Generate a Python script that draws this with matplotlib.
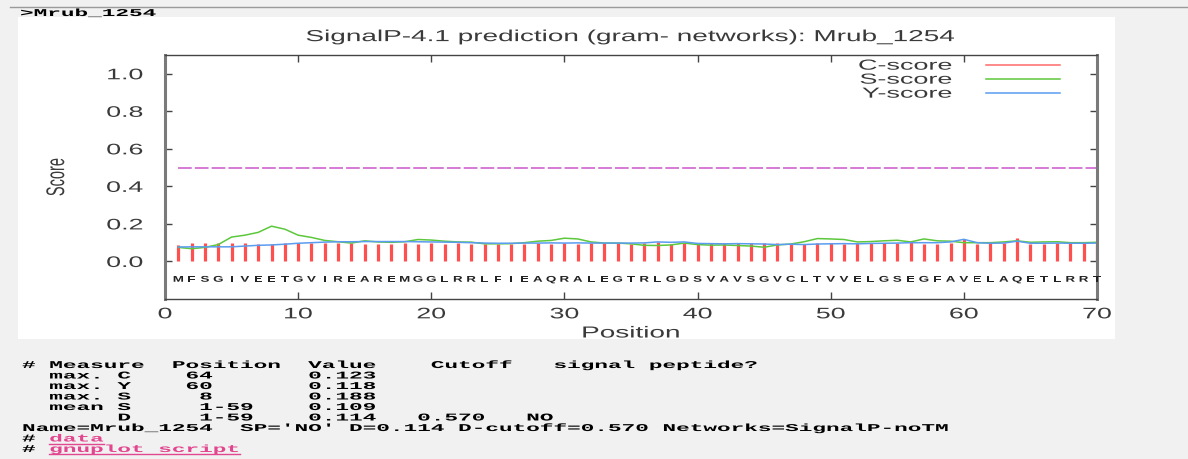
import numpy as np
import matplotlib
matplotlib.use("Agg")
import matplotlib.pyplot as plt
from matplotlib.lines import Line2D
from matplotlib.patches import Rectangle
from matplotlib.patheffects import AbstractPathEffect
from matplotlib.transforms import Affine2D

# SignalP-4.1 scores per residue for Mrub_1254
sequence = "MFSGIVEETGVIREAREMGGLRRLFIEAQRALEGTRLGDSVAVSGVCLTVVELGSEGFAVELAQETLRRT"
positions = np.arange(1, len(sequence) + 1)

c_score = [0.090, 0.097, 0.097, 0.096, 0.096, 0.096, 0.092, 0.092, 0.099, 0.096,
           0.096, 0.097, 0.096, 0.096, 0.094, 0.093, 0.094, 0.096, 0.094, 0.096,
           0.095, 0.100, 0.095, 0.094, 0.095, 0.094, 0.094, 0.100, 0.094, 0.097,
           0.095, 0.096, 0.096, 0.096, 0.095, 0.096, 0.103, 0.095, 0.096, 0.094,
           0.096, 0.097, 0.096, 0.101, 0.096, 0.096, 0.092, 0.094, 0.096, 0.096,
           0.092, 0.096, 0.100, 0.096, 0.100, 0.104, 0.093, 0.094, 0.097, 0.118,
           0.094, 0.096, 0.097, 0.123, 0.094, 0.095, 0.096, 0.097, 0.096, 0.094]

s_score = [0.075, 0.068, 0.075, 0.090, 0.130, 0.140, 0.155, 0.188, 0.172, 0.140,
           0.128, 0.112, 0.105, 0.098, 0.110, 0.104, 0.102, 0.105, 0.117, 0.114,
           0.108, 0.104, 0.103, 0.094, 0.094, 0.095, 0.100, 0.108, 0.112, 0.124,
           0.120, 0.104, 0.098, 0.098, 0.094, 0.086, 0.085, 0.088, 0.098, 0.090,
           0.087, 0.088, 0.085, 0.082, 0.076, 0.088, 0.093, 0.105, 0.122, 0.120,
           0.117, 0.104, 0.106, 0.110, 0.113, 0.104, 0.120, 0.110, 0.108, 0.100,
           0.100, 0.100, 0.104, 0.110, 0.102, 0.104, 0.105, 0.100, 0.100, 0.102]

y_score = [0.077, 0.078, 0.078, 0.078, 0.078, 0.082, 0.086, 0.088, 0.092, 0.097,
           0.100, 0.103, 0.105, 0.105, 0.106, 0.106, 0.106, 0.106, 0.105, 0.104,
           0.103, 0.102, 0.100, 0.098, 0.097, 0.097, 0.098, 0.098, 0.099, 0.098,
           0.099, 0.098, 0.098, 0.098, 0.098, 0.099, 0.104, 0.102, 0.104, 0.096,
           0.095, 0.094, 0.095, 0.094, 0.093, 0.090, 0.092, 0.090, 0.093, 0.094,
           0.095, 0.094, 0.096, 0.097, 0.098, 0.100, 0.100, 0.100, 0.104, 0.118,
           0.100, 0.097, 0.098, 0.108, 0.097, 0.097, 0.098, 0.097, 0.097, 0.098]

cutoff = 0.5
x_ticks = [0, 10, 20, 30, 40, 50, 60, 70]
y_ticks = [0.0, 0.2, 0.4, 0.6, 0.8, 1.0]

summary_lines = [
    "# Measure  Position  Value    Cutoff   signal peptide?",
    "  max. C    64       0.123",
    "  max. Y    60       0.118",
    "  max. S     8       0.188",
    "  mean S     1-59    0.109",
    "       D     1-59    0.114   0.570   NO",
    "Name=Mrub_1254  SP='NO' D=0.114 D-cutoff=0.570 Networks=SignalP-noTM",
]
link_lines = ["data", "gnuplot script"]


class Widen(AbstractPathEffect):
    """Draw glyphs stretched sideways; anchor=None keeps the line origin fixed,
    otherwise a fraction of the ink width (0 left .. 1 right)."""

    def __init__(self, sx, anchor=0.5):
        super().__init__()
        self.sx = sx
        self.anchor = anchor

    def draw_path(self, renderer, gc, tpath, affine, rgbFace=None):
        if self.anchor is None:
            x0 = affine.transform([[0.0, 0.0]])[0][0]
        else:
            bb = tpath.get_extents(affine)
            x0 = bb.x0 + self.anchor * bb.width
        stretch = Affine2D().translate(-x0, 0).scale(self.sx, 1).translate(x0, 0)
        renderer.draw_path(gc, tpath, affine + stretch, rgbFace)


W, H = 1188, 460
SX = 1.75
MONO_SX = 2.18
MONO_PT = 7.5
grey_txt = "#3a3a3a"

plt.rcParams["font.family"] = ["Liberation Sans", "DejaVu Sans"]
fig = plt.figure(figsize=(W / 100, H / 100), dpi=100, facecolor="#f1f1f1")

# white panel behind the plot, rule at the top of the page
fig.patches.append(Rectangle((18 / W, 1 - 340 / H), (1115 - 18) / W, (340 - 18) / H,
                             transform=fig.transFigure, facecolor="white",
                             edgecolor="none", zorder=-1))
fig.add_artist(Line2D([10 / W, 1.0], [1 - 8 / H, 1 - 8 / H], color="#9a9a9a", lw=1))
fig.text(20 / W, 1 - 14 / H, ">Mrub_1254", family="Liberation Mono", weight="bold",
         fontsize=MONO_PT, va="center", ha="left", color="black",
         path_effects=[Widen(MONO_SX, None)])

ax = fig.add_axes([165 / W, 1 - 300 / H, 932 / W, 244 / H])
ax.set_facecolor("white")

ax.vlines(positions, 0, c_score, color="#ff5050", lw=2.3)
ax.plot(positions, s_score, color="#5cc83c", lw=1.1)
ax.plot(positions, y_score, color="#5a9cf0", lw=1.1)
ax.hlines(cutoff, positions[0], positions[-1], color="#cc55cc", lw=1.1,
          linestyles=(0, (9, 2)))

for p, aa in zip(positions, sequence):
    ax.text(p, -0.1, aa, ha="center", va="center", fontsize=6, weight="bold",
            color="#222222", path_effects=[Widen(1.6, 0.5)])

ax.set_xlim(0, 70)
ax.set_ylim(-0.2, 1.1)
ax.set_xticks(x_ticks)
ax.set_yticks(y_ticks)
ax.set_yticklabels([f"{v:.1f}" for v in y_ticks])
ax.tick_params(direction="in", length=5, width=1, top=True, right=True,
               labelsize=11, labelcolor=grey_txt, color="#444444")
ax.tick_params(axis="y", pad=16)
ax.tick_params(axis="x", pad=6)
for lab in ax.get_xticklabels():
    lab.set_path_effects([Widen(SX, 0.5)])
for lab in ax.get_yticklabels():
    lab.set_path_effects([Widen(SX, 1.0)])

for side in ("left", "right"):
    ax.spines[side].set_linewidth(2.2)
    ax.spines[side].set_color("#7a7a7a")
for side in ("top", "bottom"):
    ax.spines[side].set_linewidth(1)
    ax.spines[side].set_color("#444444")

ax.set_title("SignalP-4.1 prediction (gram- networks): Mrub_1254", fontsize=11.5,
             color=grey_txt, pad=10, path_effects=[Widen(SX, 0.5)])
ax.set_xlabel("Position", fontsize=11.5, color=grey_txt, labelpad=3,
              path_effects=[Widen(SX, 0.5)])
ax.set_ylabel("Score", fontsize=10.5, color=grey_txt, labelpad=42,
              path_effects=[Widen(SX, 0.5)])

handles = [Line2D([], [], color="#ff6a6a", lw=1.1),
           Line2D([], [], color="#5cc83c", lw=1.1),
           Line2D([], [], color="#5a9cf0", lw=1.1)]
leg = ax.legend(handles, ["C-score", "S-score", "Y-score"], loc="upper right",
                bbox_to_anchor=((1060 - 165) / 932, 0.985), frameon=False,
                markerfirst=False, fontsize=10.5, borderpad=0, borderaxespad=0,
                handlelength=5.1, handletextpad=2.3, labelspacing=0.0)
for t in leg.get_texts():
    t.set_color(grey_txt)
    t.set_path_effects([Widen(1.85, 1.0)])

# prediction summary under the plot
row_y = 366
for line in summary_lines:
    fig.text(22 / W, 1 - row_y / H, line, family="Liberation Mono", weight="bold",
             fontsize=MONO_PT, va="center", ha="left", color="black",
             path_effects=[Widen(MONO_SX, None)])
    row_y += 10.5

char_w = 13.6
for name in link_lines:
    fig.text(22 / W, 1 - row_y / H, "# ", family="Liberation Mono", weight="bold",
             fontsize=MONO_PT, va="center", ha="left", color="black",
             path_effects=[Widen(MONO_SX, None)])
    fig.text((22 + 2 * char_w) / W, 1 - row_y / H, name, family="Liberation Mono",
             weight="bold", fontsize=MONO_PT, va="center", ha="left", color="#e2468f",
             path_effects=[Widen(MONO_SX, None)])
    uy = 1 - (row_y + 5) / H
    fig.add_artist(Line2D([(22 + 2 * char_w) / W, (22 + (2 + len(name)) * char_w) / W],
                          [uy, uy], color="#e2468f", lw=1))
    row_y += 10.5

fig.savefig("out.png", dpi=100, facecolor=fig.get_facecolor())
